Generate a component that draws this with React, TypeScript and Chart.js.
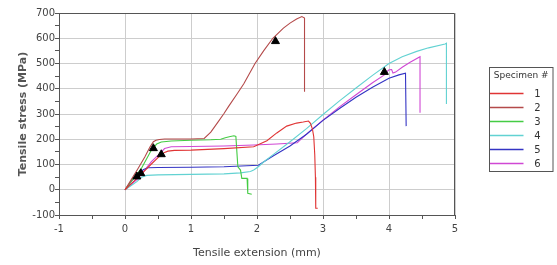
import { useEffect, useRef } from 'react';
import { Chart, registerables } from 'chart.js';

Chart.register(...registerables);

const seriesLabels = ['1', '2', '3', '4', '5', '6'];
const seriesColors = ['#e03434', '#b44a4a', '#44cc44', '#62d2d2', '#3434c4', '#d048d4'];

const spec1X = [0, 0.1, 0.2, 0.3, 0.4, 0.5, 0.55, 0.6, 0.65, 0.75, 1.0, 1.5, 1.95, 2.15, 2.3, 2.45, 2.6, 2.7, 2.78, 2.81, 2.84, 2.86, 2.875, 2.885, 2.89, 2.92];
const spec1Y = [0, 25, 50, 76, 102, 127, 138, 148, 153, 156, 157, 163, 170, 194, 225, 252, 264, 268, 272, 263, 240, 210, 140, 50, -73, -73];

const spec2X = [0, 0.1, 0.2, 0.3, 0.38, 0.43, 0.47, 0.52, 0.6, 0.8, 1.0, 1.2, 1.3, 1.4, 1.5, 1.57, 1.7, 1.8, 1.97, 2.1, 2.24, 2.4, 2.5, 2.6, 2.68, 2.72, 2.72];
const spec2Y = [0, 42, 85, 130, 170, 190, 196, 199, 201, 201, 201, 203, 228, 265, 302, 330, 380, 420, 500, 550, 600, 640, 660, 676, 686, 680, 388];

const spec3X = [0, 0.1, 0.25, 0.4, 0.48, 0.55, 0.7, 1.0, 1.3, 1.45, 1.52, 1.58, 1.65, 1.68, 1.695, 1.71, 1.75, 1.77, 1.85, 1.86, 1.92];
const spec3Y = [0, 35, 85, 157, 181, 189, 193, 196, 198, 200, 206, 210, 214, 211, 150, 91, 78, 45, 45, -14, -18];

const spec4X = [0, 0.1, 0.18, 0.25, 0.33, 0.5, 1.0, 1.5, 1.75, 1.9, 1.95, 2.02, 2.1, 2.25, 2.5, 2.75, 3.0, 3.25, 3.5, 3.75, 4.0, 4.2, 4.42, 4.6, 4.85, 4.87, 4.87];
const spec4Y = [0, 18, 32, 50, 57, 59, 61, 63, 67, 72, 78, 91, 110, 140, 190, 242, 298, 352, 403, 453, 500, 527, 548, 562, 577, 580, 340];

const spec5X = [0, 0.15, 0.28, 0.35, 0.5, 1.0, 1.5, 2.02, 2.25, 2.5, 2.75, 3.0, 3.25, 3.5, 3.75, 4.0, 4.15, 4.25, 4.26];
const spec5Y = [0, 52, 80, 87, 88, 89, 91, 97, 135, 173, 220, 275, 322, 366, 406, 442, 455, 462, 252];

const spec6X = [0, 0.2, 0.4, 0.53, 0.6, 0.7, 1.0, 1.5, 1.95, 2.3, 2.61, 2.75, 3.0, 3.25, 3.5, 3.75, 3.93, 3.97, 4.0, 4.04, 4.06, 4.1, 4.2, 4.32, 4.47, 4.47];
const spec6Y = [0, 45, 111, 144, 163, 170, 171, 173, 177, 181, 186, 220, 276, 328, 376, 424, 455, 468, 475, 476, 462, 466, 485, 505, 527, 305];

const markerX = [0.18, 0.24, 0.43, 0.55, 2.28, 3.93];
const markerY = [52, 65, 164, 140, 588, 466];

const seriesX = [spec1X, spec2X, spec3X, spec4X, spec5X, spec6X];
const seriesY = [spec1Y, spec2Y, spec3Y, spec4Y, spec5Y, spec6Y];

const FONT = 'DejaVu Sans';

const pts = (xs: number[], ys: number[]) => xs.map((x, i) => ({ x, y: ys[i] }));

const frameAndLegend = {
  id: 'frameAndLegend',
  afterDraw(chart: any) {
    const ctx = chart.ctx;
    const { left, right, top, bottom } = chart.chartArea;
    ctx.save();
    ctx.strokeStyle = '#555';
    ctx.lineWidth = 1;
    ctx.beginPath();
    const t = Math.round(top) + 0.5;
    const r = Math.round(right) - 0.5;
    ctx.moveTo(Math.round(left), t);
    ctx.lineTo(r, t);
    ctx.lineTo(r, Math.round(bottom));
    ctx.stroke();

    // legend box
    const bx = 489.5, by = 67.5, bw = 63.5, bh = 104;
    ctx.fillStyle = '#fff';
    ctx.fillRect(bx, by, bw, bh);
    ctx.strokeStyle = '#555';
    ctx.strokeRect(bx, by, bw, bh);
    ctx.fillStyle = '#333';
    ctx.font = `9px "${FONT}"`;
    ctx.textAlign = 'center';
    ctx.textBaseline = 'middle';
    ctx.fillText('Specimen #', bx + bw / 2, 76);
    seriesLabels.forEach((lab, i) => {
      const y = 93.5 + i * 14;
      ctx.strokeStyle = seriesColors[i];
      ctx.lineWidth = 1.5;
      ctx.beginPath();
      ctx.moveTo(bx + 0.5, y);
      ctx.lineTo(523.5, y);
      ctx.stroke();
      ctx.fillStyle = '#333';
      ctx.font = `10px "${FONT}"`;
      ctx.fillText(lab, 537.5, y + 0.5);
    });
    ctx.restore();
  },
};

export default function App() {
  const ref = useRef<HTMLCanvasElement>(null);
  useEffect(() => {
    document.body.style.margin = '0';
    const datasets: any[] = [
      {
        label: 'markers',
        data: pts(markerX, markerY),
        showLine: false,
        pointStyle: 'triangle',
        pointRadius: 4.6,
        backgroundColor: '#000',
        borderColor: '#000',
        borderWidth: 1,
      },
      ...seriesLabels.map((lab, i) => ({
        label: lab,
        data: pts(seriesX[i], seriesY[i]),
        showLine: true,
        borderColor: seriesColors[i],
        backgroundColor: seriesColors[i],
        borderWidth: 1.1,
        pointRadius: 0,
        tension: 0,
      })),
    ];
    const chart = new Chart(ref.current as HTMLCanvasElement, {
      type: 'scatter',
      data: { datasets },
      plugins: [frameAndLegend],
      options: {
        animation: false,
        responsive: false,
        layout: { padding: { top: 13, right: 102, left: 0, bottom: 0 } },
        plugins: { legend: { display: false }, tooltip: { enabled: false } },
        scales: {
          x: {
            type: 'linear',
            min: -1,
            max: 5,
            afterFit: (s: any) => { s.height = 50; },
            ticks: {
              stepSize: 0.5,
              autoSkip: false,
              maxRotation: 0,
              padding: 4,
              color: '#444',
              font: { family: FONT, size: 10 },
              callback: (v: any) => (Number.isInteger(v) ? String(v) : ''),
            },
            grid: {
              color: (c: any) => (c.tick && Number.isInteger(c.tick.value) ? '#cdcdcd' : 'rgba(0,0,0,0)'),
              tickColor: '#555',
              tickLength: 4,
            },
            border: { color: '#555' },
            title: {
              display: true,
              text: 'Tensile extension (mm)',
              color: '#444',
              font: { family: FONT, size: 11 },
              padding: { top: 0, bottom: 5 },
            },
          },
          y: {
            type: 'linear',
            min: -100,
            max: 700,
            afterFit: (s: any) => { s.width = 59; },
            ticks: {
              stepSize: 50,
              autoSkip: false,
              padding: 0,
              color: '#444',
              font: { family: FONT, size: 10 },
              callback: (v: any) => (v % 100 === 0 ? String(v) : ''),
            },
            grid: {
              color: (c: any) => (c.tick && c.tick.value % 100 === 0 ? '#cdcdcd' : 'rgba(0,0,0,0)'),
              tickColor: '#555',
              tickLength: 4,
            },
            border: { color: '#555' },
            title: {
              display: true,
              text: 'Tensile stress (MPa)',
              color: '#555',
              font: { family: FONT, size: 11, weight: 'bold' },
              padding: { top: 17, bottom: 0 },
            },
          },
        },
      } as any,
    });
    return () => chart.destroy();
  }, []);
  return (
    <div style={{ width: 557, height: 265 }}>
      <canvas ref={ref} width={557} height={265} style={{ display: 'block' }} />
    </div>
  );
}
